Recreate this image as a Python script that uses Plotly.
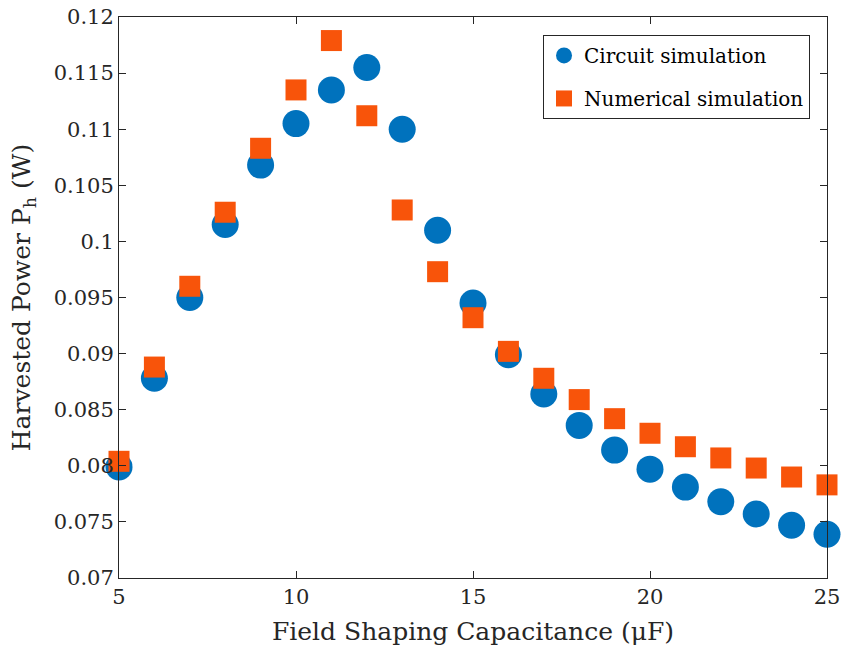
import plotly.graph_objects as go

capacitance = [5, 6, 7, 8, 9, 10, 11, 12, 13, 14, 15, 16, 17, 18, 19, 20, 21, 22, 23, 24, 25]
circuit_power = [0.0799, 0.0878, 0.0950, 0.1015, 0.1068, 0.1105, 0.1135, 0.1155, 0.1100,
                 0.1010, 0.0945, 0.0899, 0.0864, 0.0836, 0.0814, 0.0797, 0.0781, 0.0768,
                 0.0757, 0.0747, 0.0739]
numerical_power = [0.0804, 0.0888, 0.0960, 0.1026, 0.1083, 0.1135, 0.1179, 0.1112, 0.1028,
                   0.0973, 0.0932, 0.0902, 0.0878, 0.0859, 0.0842, 0.0829, 0.0817, 0.0807,
                   0.0798, 0.0790, 0.0783]
y_ticks = [0.07, 0.075, 0.08, 0.085, 0.09, 0.095, 0.1, 0.105, 0.11, 0.115, 0.12]
y_tick_labels = ["0.07", "0.075", "0.08", "0.085", "0.09", "0.095", "0.1", "0.105", "0.11", "0.115", "0.12"]
x_ticks = [5, 10, 15, 20, 25]

FONT = "DejaVu Serif"
AX = "#262626"

fig = go.Figure()
fig.add_trace(go.Scatter(
    x=capacitance, y=circuit_power, mode="markers", name="Circuit simulation",
    legendgroup="circ",
    marker=dict(symbol="circle", size=27, color="#0072BD", line=dict(width=0)),
    cliponaxis=False))
fig.add_trace(go.Scatter(
    x=capacitance, y=numerical_power, mode="markers", name="Numerical simulation",
    legendgroup="num",
    marker=dict(symbol="square", size=21, color="#F8540A", line=dict(width=0)),
    cliponaxis=False))

axis_common = dict(showline=True, linecolor=AX, linewidth=1, mirror="ticks",
                   ticks="inside", ticklen=7, tickcolor=AX, tickwidth=1,
                   showgrid=False, zeroline=False, automargin=False,
                   tickfont=dict(family=FONT, size=21, color=AX))

fig.update_xaxes(range=[5, 25], tickvals=x_ticks,
                 title=dict(text="Field Shaping Capacitance (μF)",
                            font=dict(family=FONT, size=25, color=AX), standoff=14),
                 **axis_common)
fig.update_yaxes(range=[0.07, 0.12], tickvals=y_ticks, ticktext=y_tick_labels,
                 title=dict(text="Harvested Power P<sub>h</sub> (W)",
                            font=dict(family=FONT, size=25, color=AX), standoff=15),
                 **axis_common)

fig.update_layout(
    width=847, height=653,
    margin=dict(l=119, r=20, t=17, b=75),
    plot_bgcolor="white", paper_bgcolor="white",
    legend=dict(x=0.976, y=0.968, xanchor="right", yanchor="top",
                bordercolor=AX, borderwidth=1, bgcolor="white",
                font=dict(family=FONT, size=20, color="black"),
                itemsizing="trace", tracegroupgap=14),
)

fig.write_html("out.html")
